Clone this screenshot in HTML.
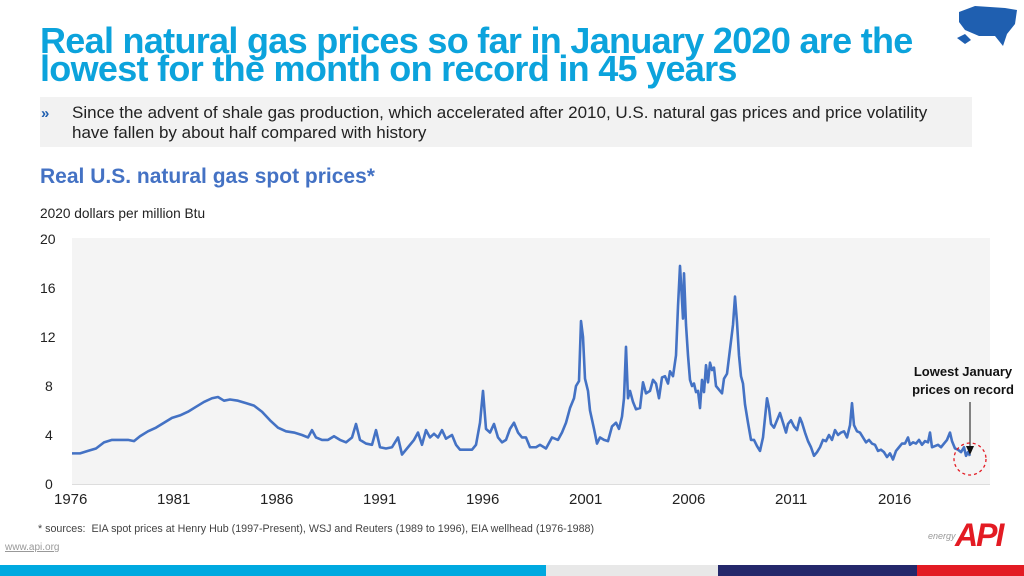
<!DOCTYPE html>
<html><head><meta charset="utf-8"><style>
body{margin:0;width:1024px;height:576px;background:#fff;position:relative;overflow:hidden;font-family:"Liberation Sans",Arial,sans-serif}
.a{position:absolute;white-space:nowrap}
</style></head><body>
<div class="a" style="left:40px;top:27px;font-size:36px;font-weight:bold;color:#0ca3dc;line-height:28px;letter-spacing:-0.7px">Real natural gas prices so far in January 2020 are the<br>lowest for the month on record in 45 years</div>
<svg class="a" style="left:955px;top:2px" width="66" height="50"><path d="M4,10 L20,4 L50,6 L62,8 L60,22 L52,32 L48,44 L40,34 L24,34 L10,28 L4,20Z" fill="#1f5fb0"/><path d="M2,36 l8,-4 6,6 -6,4z" fill="#1f5fb0"/></svg>
<div class="a" style="left:40px;top:97px;width:932px;height:50px;background:#f2f2f2"></div>
<div class="a" style="left:41px;top:105px;font-size:15px;color:#1f5fb0;font-weight:bold">»</div>
<div class="a" style="left:72px;top:103px;font-size:17px;line-height:20px;color:#222">Since the advent of shale gas production, which accelerated after 2010, U.S. natural gas prices and price volatility<br>have fallen by about half compared with history</div>
<div class="a" style="left:40px;top:165px;font-size:21px;font-weight:bold;color:#4472c4">Real U.S. natural gas spot prices*</div>
<div class="a" style="left:40px;top:206px;font-size:13.7px;color:#222">2020 dollars per million Btu</div>
<div class="a" style="left:72px;top:238px;width:918px;height:246px;background:#f4f4f4"></div>
<div class="a" style="left:72px;top:484px;width:918px;height:1px;background:#ddd"></div>
<div class="a" style="left:40px;top:231px;font-size:14px;line-height:16px;color:#222">20</div>
<div class="a" style="left:40px;top:280px;font-size:14px;line-height:16px;color:#222">16</div>
<div class="a" style="left:40px;top:329px;font-size:14px;line-height:16px;color:#222">12</div>
<div class="a" style="left:45px;top:378px;font-size:14px;line-height:16px;color:#222">8</div>
<div class="a" style="left:45px;top:427px;font-size:14px;line-height:16px;color:#222">4</div>
<div class="a" style="left:45px;top:476px;font-size:14px;line-height:16px;color:#222">0</div>
<div class="a" style="left:54px;top:491px;font-size:15px;color:#222;width:900px">
<span class="a" style="left:0">1976</span><span class="a" style="left:103px">1981</span><span class="a" style="left:206px">1986</span><span class="a" style="left:309px">1991</span><span class="a" style="left:412px">1996</span><span class="a" style="left:515px">2001</span><span class="a" style="left:618px">2006</span><span class="a" style="left:721px">2011</span><span class="a" style="left:824px">2016</span></div>
<svg class="a" style="left:0;top:0" width="1024" height="576">
<g transform="translate(0,484) scale(1,-12.25)"><polyline fill="none" stroke="#4472c4" stroke-width="2.6" stroke-linejoin="round" vector-effect="non-scaling-stroke" points="72,2.5 80,2.5 88,2.7 96,2.9 104,3.4 112,3.6 120,3.6 128,3.6 134,3.5 140,3.9 148,4.3 156,4.6 164,5.0 172,5.4 180,5.6 188,5.9 196,6.3 204,6.7 212,7.0 218,7.1 224,6.8 230,6.9 238,6.8 246,6.6 254,6.4 262,5.9 270,5.2 278,4.6 286,4.3 294,4.2 302,4.0 308,3.8 312,4.4 316,3.8 322,3.6 328,3.6 334,3.9 340,3.6 346,3.4 352,3.8 356,4.9 360,3.6 366,3.3 372,3.2 376,4.4 380,3.0 386,2.9 392,3.0 398,3.8 402,2.4 408,3.0 414,3.6 418,4.2 422,3.2 426,4.4 430,3.8 434,4.1 438,3.8 442,4.4 446,3.7 452,4.0 456,3.2 460,2.8 466,2.8 472,2.8 476,3.2 480,5.0 483,7.6 486,4.5 490,4.2 494,4.9 498,3.8 502,3.4 506,3.6 510,4.5 514,5.0 518,4.2 522,3.8 526,3.8 530,3.0 536,3.0 540,3.2 546,2.9 552,3.8 558,3.6 562,4.2 566,5.0 570,6.2 574,7.0 576,8.0 579,8.4 581,13.3 583,12.0 585,8.6 588,7.6 590,6.0 594,4.5 597,3.3 600,3.8 604,3.6 608,3.5 612,4.7 616,5.0 619,4.5 622,5.5 624,7.0 626,11.2 628,7.0 630,7.6 633,6.7 636,6.1 640,6.2 643,8.3 646,7.4 650,7.6 653,8.5 656,8.2 659,7.0 662,8.7 665,8.8 668,8.2 670,9.2 673,8.8 676,10.5 678,14.5 680,17.8 682,15.0 683,13.5 684,17.2 686,13.0 688,10.5 690,8.5 692,8.0 694,8.2 696,7.5 698,7.6 700,6.2 702,8.5 704,7.5 706,9.7 708,8.3 710,9.9 712,9.3 714,9.5 716,8.0 718,7.8 720,7.6 722,7.4 724,8.6 727,9.0 730,11.0 733,13.0 735,15.3 737,13.2 739,10.5 741,8.8 743,8.2 745,6.5 748,5.0 751,3.6 754,3.6 757,3.1 760,2.7 763,3.8 765,5.4 767,7.0 769,6.2 771,4.9 774,4.6 777,5.2 780,5.8 783,5.0 786,4.2 788,4.9 791,5.2 794,4.7 797,4.4 800,5.4 802,5.0 805,4.2 808,3.5 811,3.0 814,2.3 817,2.6 820,3.0 823,3.6 826,3.5 829,4.0 832,3.6 835,4.4 838,4.0 841,4.2 844,4.3 847,3.8 850,4.8 852,6.6 854,4.8 857,4.3 860,4.2 863,3.8 866,3.4 869,3.6 872,3.3 875,3.2 878,2.7 881,2.8 884,2.6 887,2.2 890,2.5 893,2.0 896,2.7 899,3.0 902,3.3 905,3.3 908,3.8 910,3.2 913,3.4 916,3.3 919,3.6 922,3.2 925,3.5 928,3.4 930,4.2 932,3.0 935,3.1 938,3.2 941,3.0 944,3.3 947,3.6 950,4.2 952,3.5 955,2.9 958,2.8 961,2.6 964,3.0 966,2.3 968,2.6 970,2.3"/></g>
<line x1="970" y1="402" x2="970" y2="450" stroke="#111" stroke-width="1"/>
<path d="M966,446 L970,455 L974,446Z" fill="#111"/>
<circle cx="970" cy="459" r="16" fill="none" stroke="#e31b23" stroke-width="1.3" stroke-dasharray="3,3"/>
</svg>
<div class="a" style="left:898px;top:363px;width:130px;text-align:center;font-size:13px;font-weight:bold;line-height:18px;color:#111">Lowest January<br>prices on record</div>
<div class="a" style="left:38px;top:523px;font-size:10.7px;color:#444">* sources:&nbsp; EIA spot prices at Henry Hub (1997-Present), WSJ and Reuters (1989 to 1996), EIA wellhead (1976-1988)</div>
<div class="a" style="left:5px;top:542px;font-size:10px;color:#999;text-decoration:underline">www.api.org</div>
<div class="a" style="left:928px;top:531px;font-size:9px;font-style:italic;color:#999">energy</div>
<div class="a" style="left:955px;top:516px;font-size:32px;font-weight:bold;font-style:italic;color:#e31b23;letter-spacing:-2px;line-height:38px">API</div>
<div class="a" style="left:0;top:565px;width:546px;height:11px;background:#00a9e0"></div>
<div class="a" style="left:546px;top:565px;width:172px;height:11px;background:#e8e8e8"></div>
<div class="a" style="left:718px;top:565px;width:199px;height:11px;background:#24286b"></div>
<div class="a" style="left:917px;top:565px;width:107px;height:11px;background:#e31b23"></div>
</body></html>
